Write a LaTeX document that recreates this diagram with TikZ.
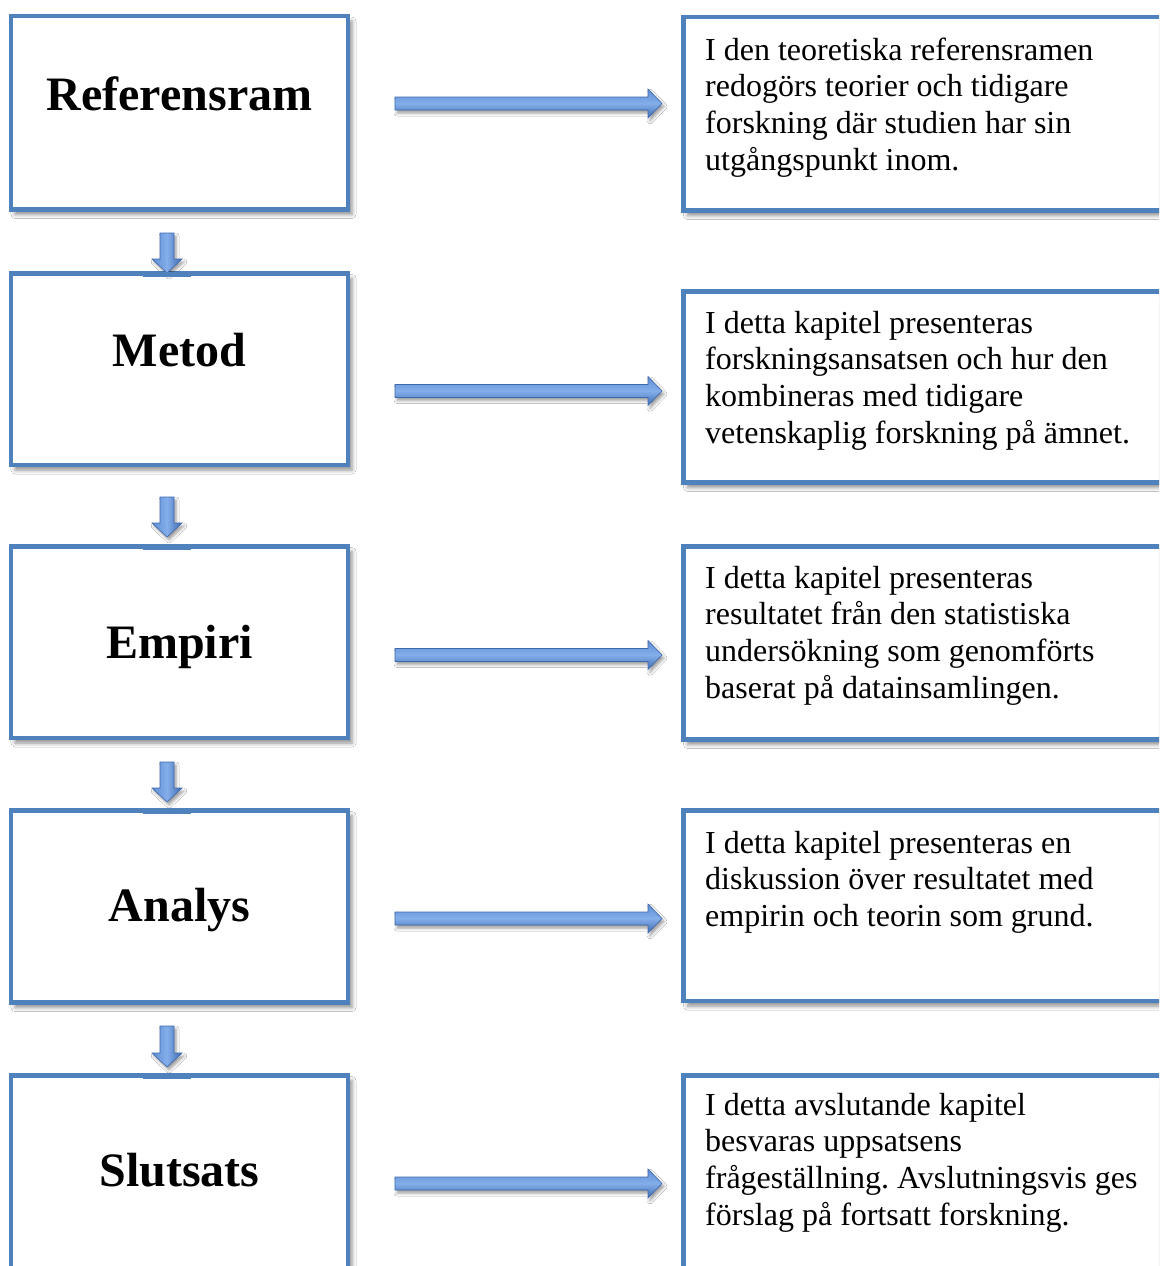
\documentclass[tikz,border=0pt]{standalone}
\usepackage{fontspec}
\setmainfont{Liberation Serif}
\usetikzlibrary{calc,shadows.blur}
\frenchspacing
\definecolor{bord}{RGB}{79,129,189}
\definecolor{arA}{RGB}{132,174,234}
\definecolor{arB}{RGB}{96,142,210}
\definecolor{arC}{RGB}{62,106,174}
\tikzset{
 box/.style={draw=bord, line width=4.5pt, fill=white, rectangle, inner sep=0pt, outer sep=0pt,
   blur shadow={shadow xshift=4pt, shadow yshift=-5pt, shadow blur radius=4pt, shadow opacity=45}},
 titletext/.style={font=\fontsize{48}{56}\selectfont\bfseries, inner sep=0pt, anchor=base},
 desc/.style={font=\fontsize{32}{36.7}\selectfont, align=left, inner sep=0pt, anchor=north west},
 harrow/.style={draw=arC, line width=0.6pt, top color=arB, bottom color=arC, middle color=arA,
   blur shadow={shadow xshift=2pt, shadow yshift=-3pt, shadow blur radius=3pt, shadow opacity=40}},
 varrow/.style={draw=arC, line width=0.6pt, left color=arB, right color=arC, middle color=arA,
   blur shadow={shadow xshift=2pt, shadow yshift=-3pt, shadow blur radius=3pt, shadow opacity=40}},
 patch/.style={draw=bord, line width=4.5pt}
}
\newcommand\hblockarrow[2]{\path[harrow] let \p1=(#1), \p2=(#2) in
  (\x1,\y1+6.5pt) -- (\x2-14pt,\y1+6.5pt) -- (\x2-14pt,\y1+14.5pt) -- (\x2,\y1)
  -- (\x2-14pt,\y1-14.5pt) -- (\x2-14pt,\y1-6.5pt) -- (\x1,\y1-6.5pt) -- cycle;}
\newcommand\vblockarrow[2]{\path[varrow] let \p1=(#1), \p2=(#2) in
  (\x1-7pt,\y1) -- (\x1-7pt,\y2+14pt) -- (\x1-15pt,\y2+14pt) -- (\x1,\y2)
  -- (\x1+15pt,\y2+14pt) -- (\x1+7pt,\y2+14pt) -- (\x1+7pt,\y1) -- cycle;}
\begin{document}
\begin{tikzpicture}[x=1pt,y=-1pt]
\useasboundingbox (0,0) rectangle (1159,1266);
\fill[white] (0,0) rectangle (1159,1266);
\clip (0,0) rectangle (1159,1266);

% left boxes
\node[box, minimum width=337pt, minimum height=193.5pt] (b1) at (179.5,112.75) {};
\node[box, minimum width=337pt, minimum height=191.5pt] (b2) at (179.5,369.25) {};
\node[box, minimum width=337pt, minimum height=191.5pt] (b3) at (179.5,642.25) {};
\node[box, minimum width=337pt, minimum height=192pt] (b4) at (179.5,906.5) {};
\node[box, minimum width=337pt, minimum height=193pt] (b5) at (179.5,1172) {};

% right boxes
\node[box, minimum width=496.5pt, minimum height=193.5pt] (r1) at (931.75,113.75) {};
\node[box, minimum width=496.5pt, minimum height=191pt] (r2) at (931.75,387) {};
\node[box, minimum width=496.5pt, minimum height=193pt] (r3) at (931.75,643) {};
\node[box, minimum width=496.5pt, minimum height=190.5pt] (r4) at (931.75,905.75) {};
\node[box, minimum width=496.5pt, minimum height=193pt] (r5) at (931.75,1172) {};

% titles
\node[titletext] (t1) at (179.5,110) {Referensram};
\node[titletext] (t2) at (179.5,366.7) {Metod};
\node[titletext] (t3) at (179.5,658) {Empiri};
\node[titletext] (t4) at (179.5,921.7) {Analys};
\node[titletext] (t5) at (179.5,1186.7) {Slutsats};

% descriptions
\node[desc] (d1) at (705,36) {\rule{0pt}{24pt}I den teoretiska referensramen\\redogörs teorier och tidigare\\forskning där studien har sin\\utgångspunkt inom.};
\node[desc] (d2) at (705,309) {\rule{0pt}{24pt}I detta kapitel presenteras\\forskningsansatsen och hur den\\kombineras med tidigare\\vetenskaplig forskning på ämnet.};
\node[desc] (d3) at (705,564) {\rule{0pt}{24pt}I detta kapitel presenteras\\resultatet från den statistiska\\undersökning som genomförts\\baserat på datainsamlingen.};
\node[desc] (d4) at (705,829) {\rule{0pt}{24pt}I detta kapitel presenteras en\\diskussion över resultatet med\\empirin och teorin som grund.};
\node[desc] (d5) at (705,1091) {\rule{0pt}{24pt}I detta avslutande kapitel\\besvaras uppsatsens\\frågeställning. Avslutningsvis ges\\förslag på fortsatt forskning.};

% arrow end points
\coordinate (hs1) at (395,103.5);  \coordinate (he1) at (662,103.5);
\coordinate (hs2) at (395,391);    \coordinate (he2) at (662,391);
\coordinate (hs3) at (395,655);    \coordinate (he3) at (662,655);
\coordinate (hs4) at (395,918.5);  \coordinate (he4) at (662,918.5);
\coordinate (hs5) at (395,1183.5); \coordinate (he5) at (662,1183.5);

\coordinate (vs1) at (167,233);  \coordinate (ve1) at (167,273);
\coordinate (vs2) at (167,497);  \coordinate (ve2) at (167,537);
\coordinate (vs3) at (167,762);  \coordinate (ve3) at (167,802);
\coordinate (vs4) at (167,1026); \coordinate (ve4) at (167,1067);

\hblockarrow{hs1}{he1}
\hblockarrow{hs2}{he2}
\hblockarrow{hs3}{he3}
\hblockarrow{hs4}{he4}
\hblockarrow{hs5}{he5}

\vblockarrow{vs1}{ve1}
\vblockarrow{vs2}{ve2}
\vblockarrow{vs3}{ve3}
\vblockarrow{vs4}{ve4}

% short border segments under the down arrows
\draw[patch] ($(b2.north -| ve1)+(-24,1)$) -- ($(b2.north -| ve1)+(24,1)$);
\draw[patch] ($(b3.north -| ve2)+(-24,1)$) -- ($(b3.north -| ve2)+(24,1)$);
\draw[patch] ($(b4.north -| ve3)+(-24,1)$) -- ($(b4.north -| ve3)+(24,1)$);
\draw[patch] ($(b5.north -| ve4)+(-24,1)$) -- ($(b5.north -| ve4)+(24,1)$);
\end{tikzpicture}
\end{document}
